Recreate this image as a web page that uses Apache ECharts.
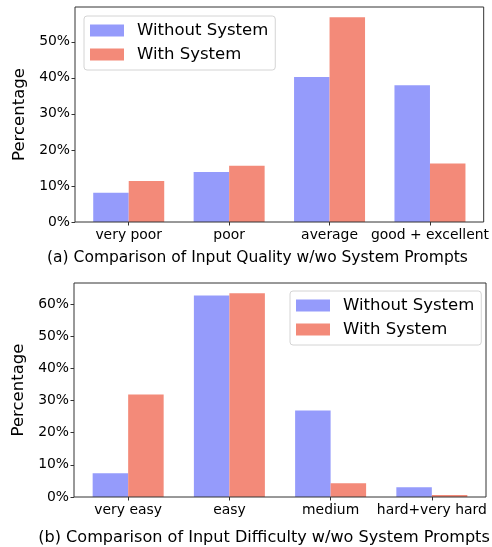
<!DOCTYPE html>
<html>
<head>
<meta charset="utf-8">
<script src="https://cdn.jsdelivr.net/npm/echarts@6/dist/echarts.min.js"></script>
<style>
  html, body { margin: 0; padding: 0; background: #fff; }
  #chart { width: 492px; height: 547px; }
</style>
</head>
<body>
<div id="chart"></div>
<script>
// Input quality ratings (percent of prompts)
const qualityCategories = ['very poor', 'poor', 'average', 'good + excellent'];
const qualityWithout = [8.1, 13.9, 40.2, 37.9];
const qualityWith = [11.4, 15.6, 56.8, 16.2];
const qualityTicks = [0, 10, 20, 30, 40, 50];

// Input difficulty ratings (percent of prompts)
const difficultyCategories = ['very easy', 'easy', 'medium', 'hard+very hard'];
const difficultyWithout = [7.4, 62.7, 26.9, 3.0];
const difficultyWith = [31.9, 63.4, 4.3, 0.6];
const difficultyTicks = [0, 10, 20, 30, 40, 50, 60];

const seriesNames = ['Without System', 'With System'];
const captions = [
  '(a) Comparison of Input Quality w/wo System Prompts',
  '(b) Comparison of Input Difficulty w/wo System Prompts'
];

const BLUE = '#959bfb';
const SALMON = '#f38a79';
const FONT = 'DejaVu Sans';
const positions = [0, 1, 2, 3];

function xAxisFor(gridIndex, cats) {
  return {
    type: 'value', gridIndex: gridIndex,
    min: -0.535, max: 3.535,
    axisLine: { show: false, onZero: false },
    splitLine: { show: false },
    axisTick: { show: true, customValues: positions, length: 3.5, lineStyle: { color: '#333' } },
    axisLabel: {
      customValues: positions, margin: 6, fontSize: 13.9, color: '#000', fontFamily: FONT,
      formatter: v => cats[Math.round(v)]
    }
  };
}

function yAxisFor(gridIndex, maxVal, ticks) {
  return {
    type: 'value', gridIndex: gridIndex,
    min: 0, max: +(maxVal * 1.05).toFixed(2),
    name: 'Percentage', nameLocation: 'middle', nameGap: 41,
    nameTextStyle: { fontSize: 16.5, color: '#000', fontFamily: FONT },
    axisLine: { show: false, onZero: false },
    splitLine: { show: false },
    axisTick: { show: true, customValues: ticks, length: 3.5, lineStyle: { color: '#333' } },
    axisLabel: { customValues: ticks, formatter: '{value}%', margin: 5, fontSize: 13.9, color: '#000', fontFamily: FONT }
  };
}

function barSeries(name, values, axisIndex, color) {
  return {
    type: 'bar', name: name,
    xAxisIndex: axisIndex, yAxisIndex: axisIndex,
    barWidth: 35.5, barGap: '0%',
    itemStyle: { color: color },
    data: values.map((v, i) => [positions[i], v])
  };
}

function legendAt(left, top) {
  return {
    data: seriesNames, orient: 'vertical', left: left, top: top,
    icon: 'rect', itemWidth: 34, itemHeight: 12, itemGap: 7,
    padding: [6, 7, 7, 6],
    borderColor: '#d4d4d4', borderWidth: 1, borderRadius: 3,
    backgroundColor: 'rgba(255,255,255,0.8)',
    selectedMode: false,
    textStyle: { fontSize: 16.5, color: '#000', fontFamily: FONT, padding: [0, 0, 0, 8] }
  };
}

const chart = echarts.init(document.getElementById('chart'), null, { renderer: 'canvas' });
chart.setOption({
  animation: false,
  backgroundColor: '#fff',
  textStyle: { fontFamily: FONT },
  grid: [
    { left: 75, right: 6, top: 7, height: 215, show: true, borderColor: '#333', borderWidth: 1, z: 3 },
    { left: 74, right: 6, top: 283, height: 214, show: true, borderColor: '#333', borderWidth: 1, z: 3 }
  ],
  xAxis: [xAxisFor(0, qualityCategories), xAxisFor(1, difficultyCategories)],
  yAxis: [
    yAxisFor(0, Math.max(...qualityWithout, ...qualityWith), qualityTicks),
    yAxisFor(1, Math.max(...difficultyWithout, ...difficultyWith), difficultyTicks)
  ],
  legend: [legendAt(84, 16), legendAt(290, 291)],
  series: [
    barSeries(seriesNames[0], qualityWithout, 0, BLUE),
    barSeries(seriesNames[1], qualityWith, 0, SALMON),
    barSeries(seriesNames[0], difficultyWithout, 1, BLUE),
    barSeries(seriesNames[1], difficultyWith, 1, SALMON)
  ],
  graphic: [
    { type: 'text', x: 257.5, y: 258, style: { text: captions[0], fontSize: 15.5, fontFamily: FONT, fill: '#000', align: 'center', verticalAlign: 'middle' } },
    { type: 'text', x: 264, y: 538, style: { text: captions[1], fontSize: 16.1, fontFamily: FONT, fill: '#000', align: 'center', verticalAlign: 'middle' } }
  ]
});
</script>
</body>
</html>
